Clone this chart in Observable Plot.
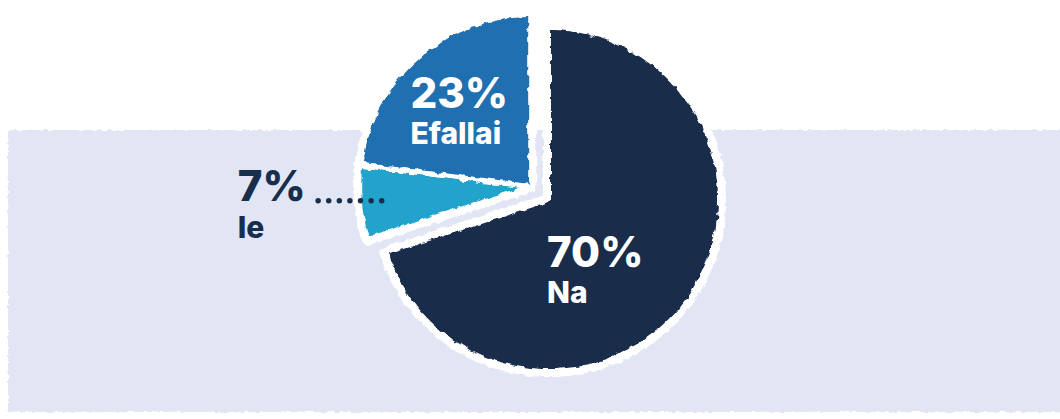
<!DOCTYPE html>
<html><head><meta charset="utf-8">
<script src="https://cdn.jsdelivr.net/npm/d3@7"></script>
<script src="https://cdn.jsdelivr.net/npm/@observablehq/plot@0.6"></script>
<style>
html,body{margin:0;padding:0;background:#fff;}
#wrap{position:relative;width:1060px;height:419px;overflow:hidden;}
#band{position:absolute;left:8px;top:130px;width:1060px;height:282px;background:#e2e6f4;filter:url(#roughBand);}
.layer{position:absolute;left:0;top:0;}
#border{filter:url(#roughB);}
#slices{filter:url(#roughS);}
</style></head>
<body>
<svg width="0" height="0" style="position:absolute">
<defs>
<filter id="roughBand" x="-2%" y="-5%" width="104%" height="110%" color-interpolation-filters="sRGB">
<feTurbulence type="fractalNoise" baseFrequency="0.2" numOctaves="2" seed="5" result="n"/>
<feDisplacementMap in="SourceGraphic" in2="n" scale="4" xChannelSelector="R" yChannelSelector="G"/>
</filter>
<filter id="roughB" x="-2%" y="-5%" width="104%" height="110%" color-interpolation-filters="sRGB">
<feTurbulence type="fractalNoise" baseFrequency="0.15" numOctaves="2" seed="8" result="n"/>
<feDisplacementMap in="SourceGraphic" in2="n" scale="5" xChannelSelector="R" yChannelSelector="G"/>
</filter>
<filter id="roughS" x="-2%" y="-5%" width="104%" height="110%" color-interpolation-filters="sRGB">
<feTurbulence type="fractalNoise" baseFrequency="0.12" numOctaves="2" seed="3" result="n"/>
<feDisplacementMap in="SourceGraphic" in2="n" scale="6" xChannelSelector="R" yChannelSelector="G"/>
</filter>
</defs></svg>
<div id="wrap">
  <div id="band"></div>
  <div id="border" class="layer"></div>
  <div id="slices" class="layer"></div>
  <div id="labels" class="layer"></div>
</div>
<script>
// ---- data ----
const categories = ["Na", "Ie", "Efallai"];
const values = [70, 7, 23];
const colors = ["#192c4a", "#22a3cc", "#1f6fb1"];
const textColor = "#172e4d";

// ---- layout constants ----
const W = 1060, H = 419, PX = 172, CX = 548, CY = 199;
const EXPLODE = 22 / PX; // Ie + Efallai pulled out together

const arcs = d3.pie().sort(null).value(d => d.value)(
  categories.map((c, i) => ({name: c, value: values[i]}))
);
const mid = a => (a.startAngle + a.endAngle) / 2;
const gMid = (arcs[1].startAngle + arcs[2].endAngle) / 2;
const offsetOf = name => name === "Na" ? [0, 0] : [Math.sin(gMid) * EXPLODE, Math.cos(gMid) * EXPLODE];

const pts = [];
arcs.forEach(a => {
  const name = a.data.name;
  const [ox, oy] = offsetOf(name);
  pts.push({name, x: ox, y: oy});
  const n = Math.ceil((a.endAngle - a.startAngle) / (Math.PI / 180));
  for (let k = 0; k <= n; k++) {
    const t = a.startAngle + (a.endAngle - a.startAngle) * k / n;
    pts.push({name, x: ox + Math.sin(t), y: oy + Math.cos(t)});
  }
});

const anchor = (a, r) => {
  const [ox, oy] = offsetOf(a.data.name);
  const m = mid(a);
  return {name: a.data.name, pct: a.data.value + "%", x: ox + r * Math.sin(m), y: oy + r * Math.cos(m)};
};
const naL = anchor(arcs[0], 0.5);
const efL = anchor(arcs[2], 0.6);
const ieL = anchor(arcs[1], 0.87);
const leader = [{x1: ieL.x, y1: ieL.y, x2: ieL.x - 64 / PX, y2: ieL.y}];

const font = "Inter, 'Noto Sans', sans-serif";
const big = (d, dx, dy, fill) => Plot.text([d], {x: "x", y: "y", text: "pct", dx, dy, textAnchor: "start", fontSize: 42, fontWeight: 800, fontFamily: font, fill});
const small = (d, dx, dy, fill) => Plot.text([d], {x: "x", y: "y", text: "name", dx, dy, textAnchor: "start", fontSize: 30, fontWeight: 800, fontFamily: font, fill});

const base = {
  width: W, height: H, margin: 0,
  x: {domain: [-CX / PX, (W - CX) / PX], axis: null},
  y: {domain: [(CY - H) / PX, CY / PX], axis: null},
  color: {domain: categories, range: colors},
  style: {background: "transparent", overflow: "visible"}
};

const borderPlot = Plot.plot({...base, marks: [
  Plot.line(pts, {x: "x", y: "y", z: "name", curve: "linear-closed", fill: "white", stroke: "white", strokeWidth: 11, strokeLinejoin: "round"})
]});
const slicePlot = Plot.plot({...base, marks: [
  Plot.line(pts, {x: "x", y: "y", z: "name", curve: "linear-closed", fill: "name", stroke: "white", strokeWidth: 5, strokeLinejoin: "round"})
]});
const labelPlot = Plot.plot({...base, marks: [
  Plot.link(leader, {x1: "x1", y1: "y1", x2: "x2", y2: "y2", stroke: textColor, strokeWidth: 5.5, strokeLinecap: "round", strokeDasharray: "0,10.6"}),
  big(naL, -71, 3, "white"),
  small(naL, -71, 43, "white"),
  big(efL, -52, -15, "white"),
  small(efL, -52, 25, "white"),
  big(ieL, -144, -13, textColor),
  small(ieL, -144, 28, textColor)
]});
document.getElementById("border").appendChild(borderPlot);
document.getElementById("slices").appendChild(slicePlot);
document.getElementById("labels").appendChild(labelPlot);
</script>
</body></html>
